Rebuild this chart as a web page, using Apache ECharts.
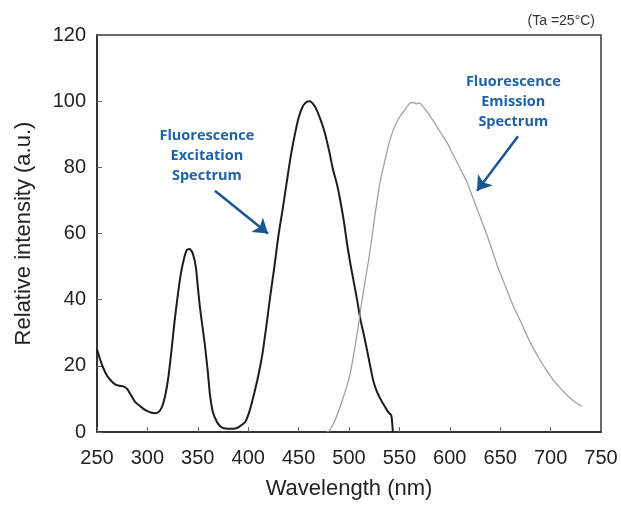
<!DOCTYPE html>
<html>
<head>
<meta charset="utf-8">
<script src="https://cdn.jsdelivr.net/npm/echarts@6/dist/echarts.min.js"></script>
<style>
html,body{margin:0;padding:0;background:#fff;}
#chart{width:621px;height:505px;}
</style>
</head>
<body>
<div id="chart"></div>
<script>
// Data (wavelength nm, relative intensity a.u.)
var excitationWl  = [250,253,256,260,264,268,272,276,280,284,288,292,296,300,304,308,312,315,318,321,324,327,330,333,336,339,342,345,348,350,352,355,357,360,362,365,369,372,375,380,385,389,393,397,401,405,410,414,418,422,426,430,434,438,442,446,450,454,458,461,464,468,471,475,478,481,484,488,491,495,498,501,504,508,511,515,518,521,524,528,533,536,539,542,543.5];
var excitationVal = [25,22,19.5,17,15.5,14.4,14,13.8,13,11,9,8,7,6.3,5.8,5.7,6.3,8,11.5,17,25,33.6,41,47.5,52,55,55.3,54,50,44,38,31,26.4,18,11.4,6,3,1.8,1.2,1,1,1.2,2,3,6,10.5,17,23.4,32,41.4,50,59.4,67,75,83,89.5,95,98.3,99.8,100,99.3,97.3,95,91.5,88,84,79.5,75,70.5,63.5,57,51.5,46.5,40,34.5,29,24.6,20,15.6,12,9,7.5,6,5,0];
var emissionWl  = [478,481,486,491,496,501,505,509,512,516,520,523,526,529,532,536,539,542.6,546,549,552,556,560,564,567,570,573,577,582,587,592,597,602,607,612,617,622,627,632,637,642,647,652,657,663,670,676,682.5,689,696,702,709,715,722,729,731];
var emissionVal = [0,0.6,3.5,7.5,12,17.4,24,31.5,38,45.6,53,59.4,66,72.2,77.3,82.5,86.5,90.2,92.8,94.6,96,97.6,99.3,99.6,99.2,99.5,98.6,97,94.8,92.4,90,87.6,84.6,81.6,78.6,75.6,71.5,67.5,63.5,59.4,55,50.4,46.5,42.6,38,33.6,29.5,25.5,22,18.6,16,13.5,11.5,9.6,8.1,7.8];

var xTicks = [250,300,350,400,450,500,550,600,650,700,750];
var yTicks = [0,20,40,60,80,100,120];

var excitationLabel = ['Fluorescence','Excitation','Spectrum'];
var emissionLabel = ['Fluorescence','Emission','Spectrum'];
var excitationLabelAt = [359, 83.4];
var emissionLabelAt = [663, 99.9];
var excitationArrow = [[367, 72.9], [419.6, 60]];
var emissionArrow = [[667.7, 89.4], [627, 72.9]];

function pairs(xs, ys){ return xs.map(function(x,i){ return [x, ys[i]]; }); }

var chart = echarts.init(document.getElementById('chart'), null, {renderer:'canvas'});
var font = 'Liberation Sans, Arial, Helvetica, sans-serif';
var blue = '#1f62a5';
var arrowBlue = '#1a5690';

var option = {
  animation: false,
  backgroundColor: '#fff',
  grid: {left: 97, right: 20, top: 35, bottom: 70, show: true, borderColor: '#3a3a3a', borderWidth: 1.5, containLabel: false},
  xAxis: {
    type: 'value', min: xTicks[0], max: xTicks[xTicks.length-1], interval: 50,
    name: 'Wavelength (nm)', nameLocation: 'middle', nameGap: 46,
    nameTextStyle: {fontFamily: font, fontSize: 22, color: '#222'},
    axisLine: {show: true, lineStyle: {color: '#333', width: 2}},
    axisTick: {show: true, inside: true, length: 5, lineStyle: {color: '#666', width: 1}},
    axisLabel: {fontFamily: font, fontSize: 20, color: '#222', margin: 16},
    splitLine: {show: false}
  },
  yAxis: {
    type: 'value', min: yTicks[0], max: yTicks[yTicks.length-1], interval: 20,
    name: 'Relative intensity (a.u.)', nameLocation: 'middle', nameGap: 62, nameRotate: 90,
    nameTextStyle: {fontFamily: font, fontSize: 22, color: '#222'},
    axisLine: {show: true, lineStyle: {color: '#333', width: 2}},
    axisTick: {show: true, inside: true, length: 5, lineStyle: {color: '#666', width: 1}},
    axisLabel: {fontFamily: font, fontSize: 20, color: '#222', margin: 11},
    splitLine: {show: false}
  },
  series: [
    {
      name: 'Excitation', type: 'line', data: pairs(excitationWl, excitationVal),
      showSymbol: false, smooth: 0.2, silent: true,
      lineStyle: {color: '#1c1c1c', width: 2},
      markLine: {
        silent: true, symbol: ['none','arrow'], symbolSize: 14, label: {show: false},
        lineStyle: {color: arrowBlue, width: 2.5, type: 'solid'},
        itemStyle: {color: arrowBlue},
        data: [[{coord: excitationArrow[0]}, {coord: excitationArrow[1]}]]
      }
    },
    {
      name: 'Emission', type: 'line', data: pairs(emissionWl, emissionVal),
      showSymbol: false, smooth: 0.2, silent: true,
      lineStyle: {color: '#a2a2a2', width: 1.3},
      markLine: {
        silent: true, symbol: ['none','arrow'], symbolSize: 14, label: {show: false},
        lineStyle: {color: arrowBlue, width: 2.5, type: 'solid'},
        itemStyle: {color: arrowBlue},
        data: [[{coord: emissionArrow[0]}, {coord: emissionArrow[1]}]]
      }
    }
  ]
};
chart.setOption(option);

var p1 = chart.convertToPixel({gridIndex: 0}, excitationLabelAt);
var p2 = chart.convertToPixel({gridIndex: 0}, emissionLabelAt);
var textStyle = function(lines, p){
  return {type: 'text', x: p[0], y: p[1], silent: true,
    style: {text: lines.join('\n'), fill: blue, font: 'bold 14.5px "Open Sans", "Noto Sans", sans-serif', align: 'center', verticalAlign: 'middle', lineHeight: 20}};
};
chart.setOption({
  graphic: [
    textStyle(excitationLabel, p1),
    textStyle(emissionLabel, p2),
    {type: 'text', right: 26, top: 14, silent: true,
     style: {text: '(Ta =25°C)', fill: '#333', font: '14px ' + font}}
  ]
});
</script>
</body>
</html>
